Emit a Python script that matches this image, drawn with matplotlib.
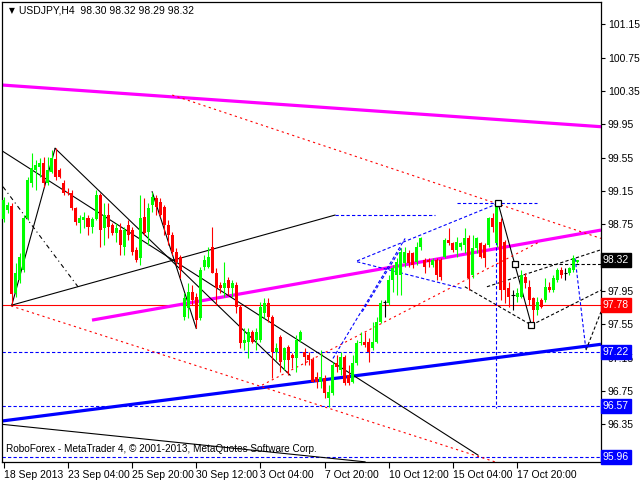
import matplotlib
matplotlib.use("Agg")
import matplotlib.pyplot as plt
import matplotlib.transforms as mtransforms

plt.rcParams['font.family'] = ['Liberation Sans', 'DejaVu Sans']

# ---- data: USDJPY H4 candles (bar index 0 .. 143) ----
opens = [98.81, 98.92, 98.97, 97.92, 98.08, 98.20, 98.82, 99.24, 99.40, 99.44,
         99.48, 99.24, 99.38, 99.53, 99.40, 99.24, 99.14, 99.12, 98.94, 98.76,
         98.80, 98.82, 98.72, 98.81, 99.10, 98.70, 98.86, 98.74, 98.64, 98.68,
         98.48, 98.74, 98.68, 98.44, 98.34, 98.84, 98.66, 98.98, 99.06, 99.02,
         98.96, 98.74, 98.62, 98.42, 98.36, 97.64, 97.74, 97.94, 97.88, 97.62,
         98.24, 98.24, 98.48, 98.16, 98.02, 97.98, 98.08, 97.98, 98.02, 97.76,
         97.32, 97.34, 97.46, 97.36, 97.36, 97.68, 97.80, 97.64, 97.22, 97.40,
         97.12, 97.28, 97.18, 97.14, 97.36, 97.22, 97.18, 97.12, 96.92, 96.86,
         96.90, 96.66, 96.72, 97.08, 97.00, 97.16, 96.94, 96.86, 97.08, 97.32,
         97.34, 97.34, 97.26, 97.34, 97.58, 97.82, 97.80, 98.08, 98.14, 98.14,
         98.28, 98.40, 98.40, 98.30, 98.48, 98.32, 98.32, 98.26, 98.32, 98.32,
         98.36, 98.56, 98.52, 98.44, 98.48, 98.50, 98.58, 98.14, 98.46, 98.52,
         98.50, 98.50, 98.82, 98.52, 98.78, 98.54, 97.98, 97.90, 97.88, 97.88,
         98.12, 98.00, 97.86, 97.72, 97.84, 97.84, 98.00, 97.96, 98.08, 98.20,
         98.16, 98.16, 98.20, 98.30]
highs = [99.08, 99.02, 99.00, 98.28, 98.40, 98.86, 99.32, 99.60, 99.52, 99.54,
         99.56, 99.56, 99.64, 99.66, 99.42, 99.28, 99.18, 99.16, 98.96, 98.86,
         98.90, 98.86, 98.84, 99.16, 99.12, 99.00, 99.00, 98.76, 98.76, 98.76,
         98.72, 98.80, 98.72, 98.48, 99.10, 99.06, 99.00, 99.14, 99.10, 99.06,
         98.98, 98.80, 98.66, 98.46, 98.38, 97.92, 98.04, 98.02, 97.92, 98.24,
         98.38, 98.48, 98.72, 98.22, 98.06, 98.30, 98.12, 98.08, 98.06, 97.78,
         97.50, 97.50, 97.48, 97.50, 97.82, 97.86, 97.86, 97.66, 97.32, 97.42,
         97.28, 97.30, 97.20, 97.42, 97.48, 97.26, 97.22, 97.16, 96.98, 97.24,
         96.94, 96.82, 97.10, 97.18, 97.22, 97.18, 97.06, 97.18, 97.36, 97.46,
         97.46, 97.38, 97.58, 97.64, 97.84, 97.84, 98.14, 98.26, 98.34, 98.46,
         98.48, 98.44, 98.42, 98.54, 98.60, 98.34, 98.34, 98.34, 98.34, 98.34,
         98.58, 98.70, 98.54, 98.60, 98.54, 98.70, 98.62, 98.62, 98.60, 98.54,
         98.52, 98.84, 98.88, 99.00, 98.82, 98.56, 98.06, 97.96, 97.98, 98.20,
         98.16, 98.08, 97.88, 97.88, 97.86, 98.10, 98.06, 98.14, 98.22, 98.24,
         98.22, 98.24, 98.38, 98.32]
lows = [98.78, 98.88, 97.79, 97.88, 98.04, 98.18, 98.80, 99.20, 99.16, 99.32,
        99.20, 99.22, 99.36, 99.28, 99.30, 99.10, 99.10, 98.92, 98.74, 98.64,
        98.70, 98.62, 98.64, 98.80, 98.48, 98.50, 98.58, 98.62, 98.54, 98.38,
        98.38, 98.56, 98.38, 98.30, 98.26, 98.62, 98.50, 98.90, 98.86, 98.84,
        98.62, 98.50, 98.38, 98.26, 98.10, 97.60, 97.62, 97.78, 97.50, 97.60,
        98.20, 98.22, 98.16, 97.78, 97.92, 97.88, 97.90, 97.88, 97.68, 97.26,
        97.24, 97.14, 97.32, 97.24, 97.34, 97.62, 97.58, 96.90, 97.12, 96.98,
        97.00, 96.94, 97.02, 96.98, 97.34, 97.06, 97.06, 96.86, 96.78, 96.78,
        96.66, 96.56, 96.70, 96.98, 96.94, 96.82, 96.82, 96.84, 97.06, 97.30,
        97.28, 97.10, 97.24, 97.32, 97.56, 97.64, 97.78, 97.94, 97.90, 97.90,
        98.24, 98.24, 98.22, 98.26, 98.44, 98.16, 98.24, 98.24, 98.08, 98.08,
        98.34, 98.50, 98.42, 98.36, 98.44, 98.40, 97.96, 98.10, 98.40, 98.34,
        98.24, 98.48, 98.66, 98.48, 97.84, 97.80, 97.76, 97.72, 97.82, 97.86,
        97.98, 97.78, 97.54, 97.66, 97.74, 97.82, 97.94, 97.94, 98.06, 98.10,
        98.08, 98.14, 98.18, 98.29]
closes = [99.04, 98.98, 97.91, 98.16, 98.36, 98.82, 99.28, 99.42, 99.46, 99.48,
          99.24, 99.40, 99.54, 99.32, 99.32, 99.12, 99.12, 98.94, 98.78, 98.82,
          98.84, 98.72, 98.81, 99.10, 98.68, 98.86, 98.72, 98.64, 98.70, 98.50,
          98.68, 98.62, 98.42, 98.32, 98.82, 98.64, 98.94, 99.08, 98.96, 98.86,
          98.74, 98.62, 98.42, 98.30, 98.20, 97.86, 97.94, 97.84, 97.60, 98.20,
          98.32, 98.36, 98.16, 97.98, 97.99, 98.04, 97.98, 98.04, 97.76, 97.32,
          97.36, 97.46, 97.34, 97.46, 97.76, 97.80, 97.64, 97.22, 97.26, 97.10,
          97.26, 97.12, 97.14, 97.36, 97.46, 97.16, 97.12, 96.86, 96.86, 96.92,
          96.72, 96.74, 97.06, 97.04, 97.16, 96.84, 96.84, 97.08, 97.32, 97.34,
          97.30, 97.22, 97.34, 97.58, 97.80, 97.82, 98.08, 98.22, 98.30, 98.42,
          98.42, 98.28, 98.26, 98.48, 98.58, 98.24, 98.30, 98.32, 98.14, 98.12,
          98.56, 98.52, 98.44, 98.54, 98.52, 98.58, 98.10, 98.46, 98.58, 98.36,
          98.34, 98.82, 98.72, 98.98, 97.96, 97.96, 97.88, 97.90, 97.92, 98.14,
          98.04, 97.84, 97.72, 97.82, 97.76, 98.00, 97.96, 98.10, 98.20, 98.14,
          98.16, 98.22, 98.34, 98.32]

date_tick_bars = [0, 16, 32, 48, 64, 80, 96, 112, 128]
date_tick_labels = ["18 Sep 2013", "23 Sep 04:00", "25 Sep 20:00", "30 Sep 12:00",
                    "3 Oct 04:00", "7 Oct 20:00", "10 Oct 12:00", "15 Oct 04:00",
                    "17 Oct 20:00"]
price_ticks = [101.15, 100.75, 100.35, 99.95, 99.55, 99.15, 98.75, 98.35,
               97.95, 97.55, 97.15, 96.75, 96.35]
hidden_tick_labels = [98.35]  # fully covered by the current-price tag

# price labels on the axis: (value, background colour)
price_tags = [(98.32, "black"), (97.78, "#FF0000"), (97.22, "#0000FF"),
              (96.57, "#0000FF"), (95.96, "#0000FF")]

# drawn analysis objects (bar index, price)
thick_lines = [  # (x0, y0, x1, y1, colour)
    (-0.42, 100.42, 148.95, 99.92, "#FF00FF"),
    (22.0, 97.60, 148.95, 98.68, "#FF00FF"),
    (-0.42, 96.39, 148.95, 97.31, "#0000FF"),
]
black_solid = [
    (-0.42, 99.63, 118.3, 95.98),
    (12.8, 99.66, 71.4, 96.94),
    (2.0, 97.78, 12.8, 99.66),
    (2.0, 97.78, 82.6, 98.86),
    (37.0, 99.14, 48.0, 97.50),
    (-0.42, 96.35, 90.1, 95.90),
    (123.3, 99.00, 131.6, 97.54),
]
black_dashdot = [(-0.2, 99.20, 18.5, 98.00)]
black_dashed = [
    (127.5, 98.27, 148.95, 98.27),
    (115.0, 98.00, 131.6, 97.54),
    (120.5, 98.00, 148.7, 98.44),
    (131.6, 97.54, 148.95, 97.96),
    (145.2, 97.24, 148.95, 97.70),
]
red_dotted = [
    (42.0, 100.30, 148.95, 98.58),
    (1.8, 97.77, 123.8, 95.88),
    (64.4, 96.82, 133.7, 98.54),
]
blue_dashed = [
    (82.6, 98.86, 107.6, 98.86),
    (113.0, 99.00, 133.0, 99.00),
    (122.7, 99.00, 122.7, 96.54),
    (88.1, 98.31, 123.3, 99.00),
    (88.1, 98.30, 114.3, 97.98),
    (82.1, 97.14, 100.1, 98.58),
    (89.4, 97.70, 99.3, 98.48),
    (142.5, 98.34, 145.2, 97.24),
]
hlines_full = [(97.78, "#FF0000", "-"), (97.22, "#0000FF", (0, (3, 2))),
               (96.57, "#0000FF", (0, (3, 2))), (95.96, "#0000FF", (0, (3, 2)))]
squares = [(123.3, 99.00), (127.5, 98.27), (131.6, 97.54)]

# ---- figure ----
fig = plt.figure(figsize=(6.4, 4.8), dpi=100)
ax = fig.add_axes([2 / 640, 18 / 480, 599 / 640, 460 / 480])
ax.set_xlim(-0.45, 148.95)
ax.set_ylim(95.898, 101.416)

px = 0.72  # one pixel in points

for (y, c, ls) in hlines_full:
    ax.axhline(y, color=c, lw=px * 1.1, ls=ls, zorder=1)

for (x0, y0, x1, y1, c) in thick_lines:
    ax.plot([x0, x1], [y0, y1], color=c, lw=2.3, solid_capstyle='butt', zorder=1)
for (x0, y0, x1, y1) in black_solid:
    ax.plot([x0, x1], [y0, y1], color="black", lw=px * 1.1, zorder=1)
for (x0, y0, x1, y1) in black_dashdot:
    ax.plot([x0, x1], [y0, y1], color="black", lw=px * 1.1, ls=(0, (4, 3, 1, 3)), zorder=1)
for (x0, y0, x1, y1) in black_dashed:
    ax.plot([x0, x1], [y0, y1], color="black", lw=px * 1.1, ls=(0, (3, 2)), zorder=1)
for (x0, y0, x1, y1) in red_dotted:
    ax.plot([x0, x1], [y0, y1], color="#FF0000", lw=px * 1.1, ls=(0, (2, 3)), zorder=1)
for (x0, y0, x1, y1) in blue_dashed:
    ax.plot([x0, x1], [y0, y1], color="#0000FF", lw=px * 1.1, ls=(0, (3, 2)), zorder=1)

# candles
for i, (o, h, l, c) in enumerate(zip(opens, highs, lows, closes)):
    if c > o:
        col = "#00FF00"
    elif c < o:
        col = "#FF0000"
    else:
        col = "black"
    ax.vlines(i, l, h, color=col, lw=px * 1.1, zorder=3)
    if c == o:
        ax.hlines(o, i - 0.38, i + 0.38, color=col, lw=px * 1.1, zorder=3)
    else:
        bottom = min(o, c)
        height = max(abs(c - o), 0.012)
        ax.bar(i, height, bottom=bottom, width=0.75, color=col, lw=0, zorder=3)

ax.plot([s[0] for s in squares], [s[1] for s in squares], ls="none", marker="s",
        ms=5, mfc="white", mec="black", mew=0.9, zorder=4)

# axes styling
for sp in ax.spines.values():
    sp.set_color("black")
    sp.set_linewidth(0.9)
ax.yaxis.tick_right()
ax.set_yticks(price_ticks)
ax.set_yticklabels(["" if v in hidden_tick_labels else f"{v:.2f}" for v in price_ticks])
ax.tick_params(axis="y", direction="out", length=3, width=0.8, pad=2,
               labelsize=7.5, colors="black")
ax.set_xticks(date_tick_bars)
ax.set_xticklabels(date_tick_labels)
ax.tick_params(axis="x", direction="out", length=4, width=0.8, pad=1.5,
               labelsize=7.5, colors="black")
for lab in ax.get_xticklabels():
    lab.set_horizontalalignment("left")

trans = mtransforms.blended_transform_factory(ax.transAxes, ax.transData)
for (v, c) in price_tags:
    ax.text(1.003, v, f"{v:.2f}", transform=trans, va="center", ha="left",
            fontsize=7.5, color="white", zorder=10, clip_on=False,
            bbox=dict(boxstyle="square,pad=0.22", fc=c, ec=c))

ax.text(0.012, 0.991, "\u25BC", transform=ax.transAxes, fontsize=5.5,
        va="top", ha="left", family=["DejaVu Sans"])
ax.text(0.029, 0.993, "USDJPY,H4  98.30 98.32 98.29 98.32", transform=ax.transAxes,
        fontsize=7.5, va="top", ha="left")
ax.text(0.006, 0.018, "RoboForex - MetaTrader 4, \u00A9 2001-2013, MetaQuotes Software Corp.",
        transform=ax.transAxes, fontsize=7.2, va="bottom", ha="left", zorder=5)

fig.savefig("out.png", dpi=100, facecolor="white")
